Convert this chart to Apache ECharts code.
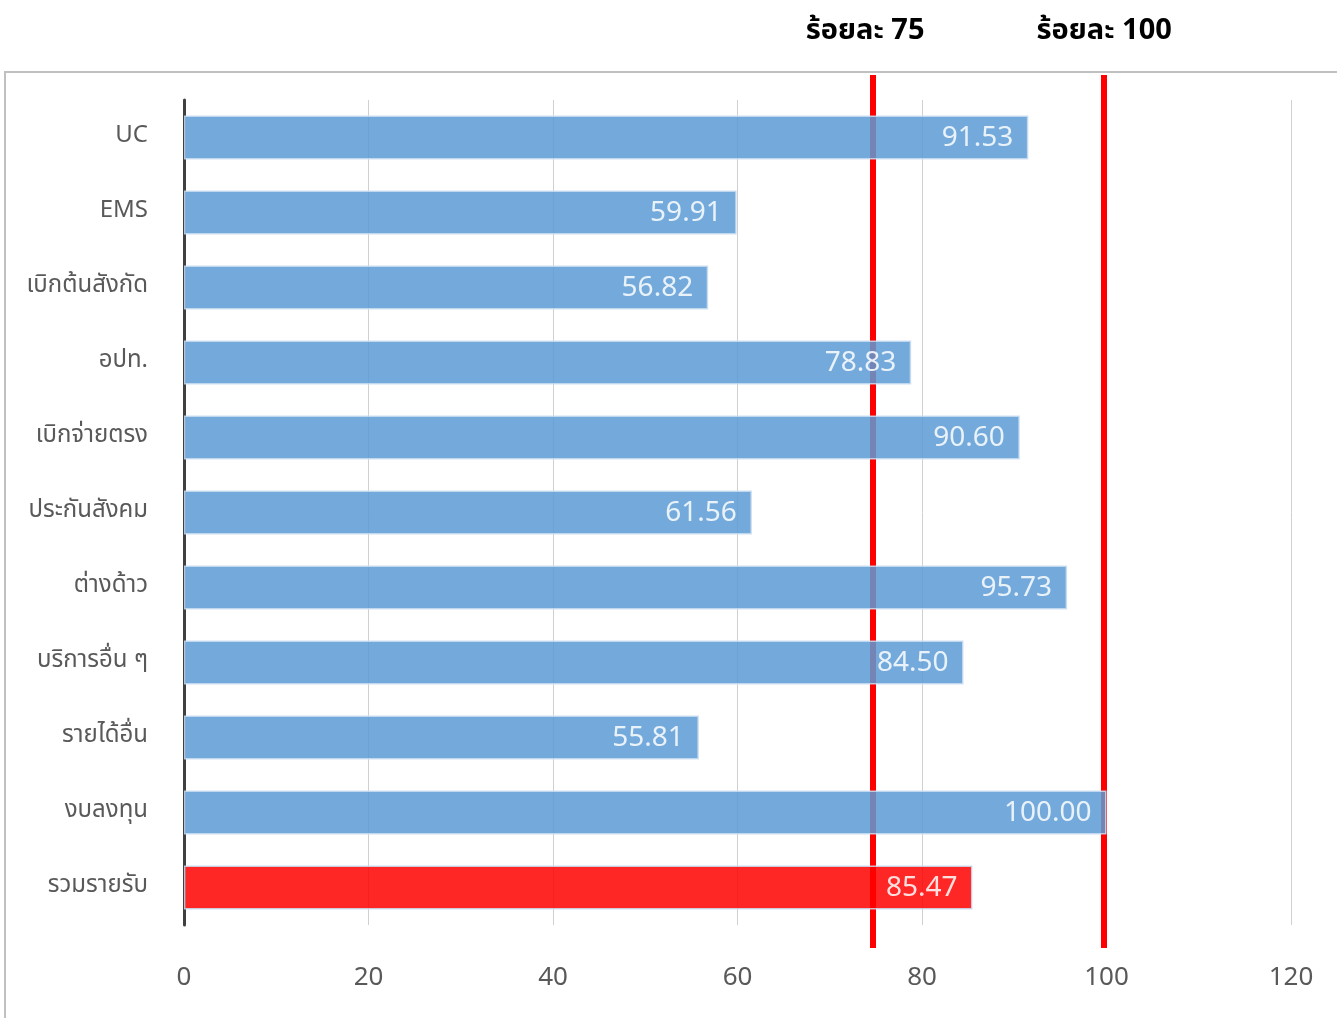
<!DOCTYPE html>
<html><head><meta charset="utf-8">
<script src="https://cdn.jsdelivr.net/npm/echarts@6/dist/echarts.min.js"></script>
<style>html,body{margin:0;padding:0;background:#fff}#c{width:1337px;height:1018px}</style>
</head><body><div id="c"></div>
<script>
const categories = ['UC','EMS','เบิกต้นสังกัด','อปท.','เบิกจ่ายตรง','ประกันสังคม','ต่างด้าว','บริการอื่น ๆ','รายได้อื่น','งบลงทุน','รวมรายรับ'];
const values = [91.53,59.91,56.82,78.83,90.60,61.56,95.73,84.50,55.81,100.00,85.47];
const highlightCategory = 'รวมรายรับ';
const refLines = [75, 100];
const refLabels = ['ร้อยละ 75', 'ร้อยละ 100'];
const xTicks = {min: 0, max: 120, interval: 20};

const FONT = '"Noto Sans Thai","Leelawadee UI",Tahoma,"Noto Sans",sans-serif';
const chart = echarts.init(document.getElementById('c'));
const barData = values.map((v, i) => ({
  value: v,
  itemStyle: categories[i] === highlightCategory ? {color: '#FF0000'} : undefined
}));
const labelShift = [-8, 0];
chart.setOption({
  animation: false,
  textStyle: {fontFamily: FONT},
  graphic: [{
    type: 'rect', z: -10, silent: true,
    shape: {x: 5, y: 72, width: 1400, height: 1000},
    style: {fill: 'none', stroke: '#c0c0c0', lineWidth: 2}
  }],
  grid: [
    {left: 184, right: 46, top: 100, bottom: 93},
    {left: 180, right: 48, top: 75, bottom: 70}
  ],
  xAxis: [{
    type: 'value', gridIndex: 0, min: xTicks.min, max: xTicks.max, interval: xTicks.interval,
    axisLine: {show: false}, axisTick: {show: false},
    axisLabel: {color: '#595959', fontSize: 26, margin: 42, fontFamily: FONT},
    splitLine: {lineStyle: {color: '#d0d0d0', width: 1}}
  }, {
    type: 'value', gridIndex: 1, min: xTicks.min, max: xTicks.max, show: false
  }],
  yAxis: [{
    type: 'category', gridIndex: 0, data: categories, inverse: true,
    axisLine: {lineStyle: {color: '#404040', width: 3}}, axisTick: {show: false},
    axisLabel: {color: '#595959', fontSize: 24, margin: 36, fontFamily: FONT}
  }, {
    type: 'value', gridIndex: 1, show: false, min: 0, max: 1
  }],
  series: [{
    type: 'line', xAxisIndex: 1, yAxisIndex: 1, data: [], z: 1,
    markLine: {
      silent: true, symbol: 'none', z: 1,
      lineStyle: {color: '#FF0000', width: 6, type: 'solid', opacity: 1},
      label: {show: true, position: 'end', distance: 27, color: '#000', fontSize: 29, fontWeight: 'bold', fontFamily: FONT,
        formatter: p => refLabels[refLines.indexOf(p.value)]},
      data: refLines.map((v, i) => ({xAxis: v, label: {offset: [labelShift[i], 0]}}))
    }
  }, {
    type: 'bar', xAxisIndex: 0, yAxisIndex: 0, data: barData, barWidth: 44, z: 3,
    itemStyle: {color: '#5B9BD5', opacity: 0.85, borderColor: '#c8dcf0', borderWidth: 1.5},
    label: {show: true, position: 'insideRight', distance: 15, offset: [0, 3], color: '#fff', fontSize: 28, fontFamily: FONT,
      formatter: p => p.value.toFixed(2)}
  }]
});
</script></body></html>
